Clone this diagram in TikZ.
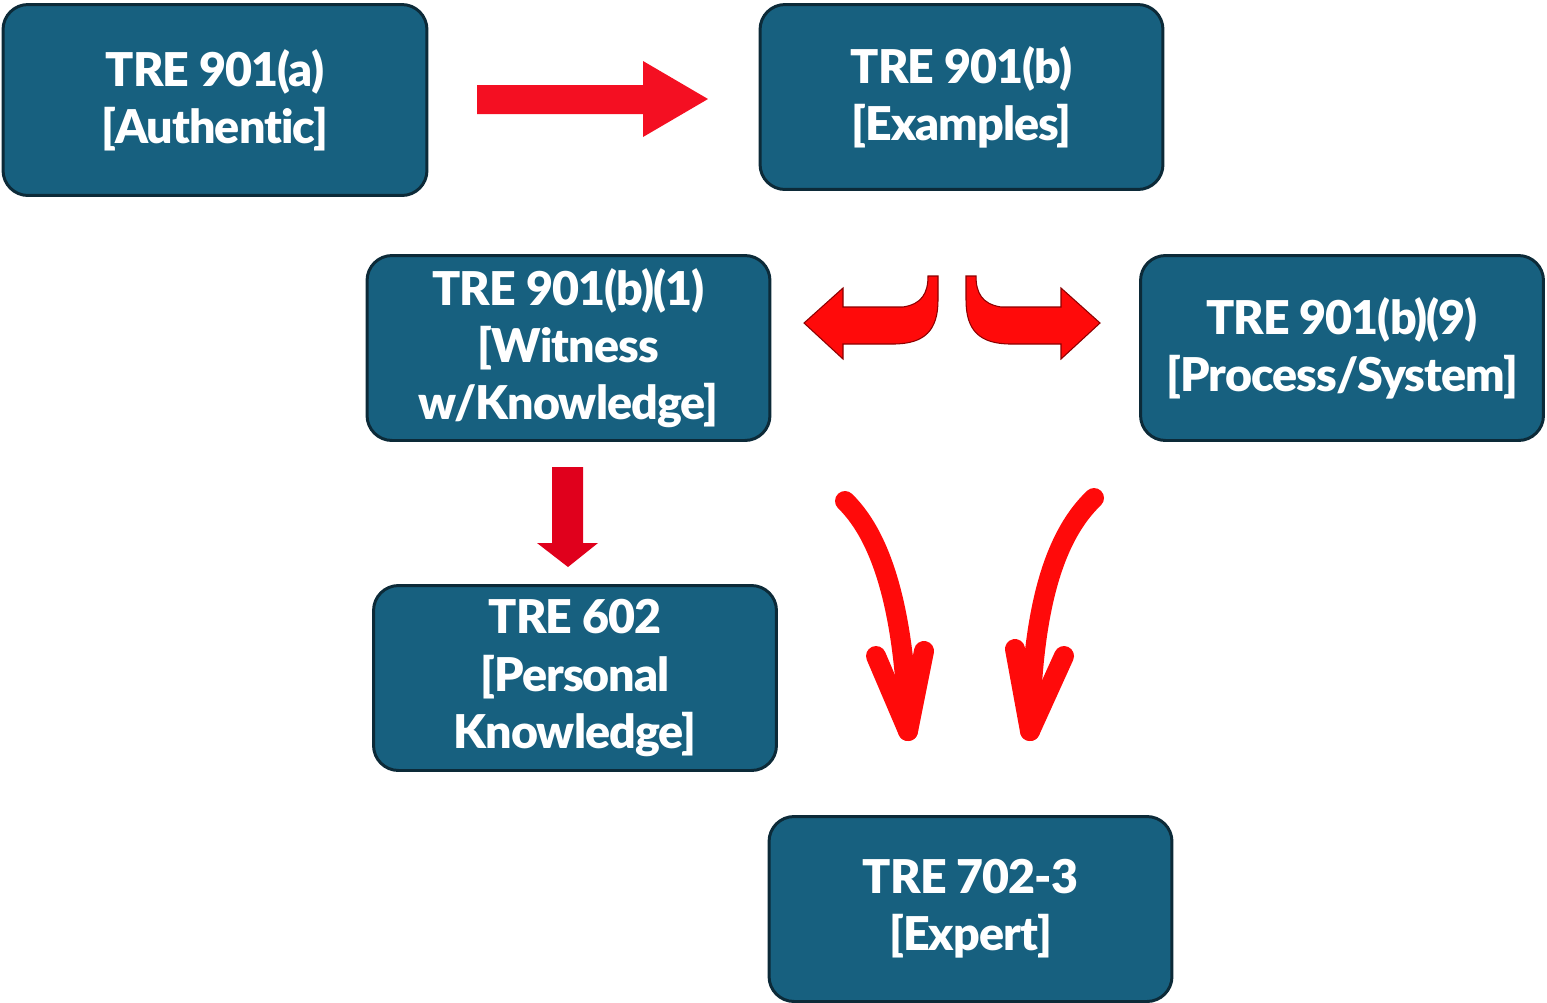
\documentclass[tikz,border=0pt]{standalone}
\usepackage{fontspec}
\setmainfont{Lato}[BoldFont={Lato Black}, Ligatures={NoCommon}, LetterSpace=-2]
\usetikzlibrary{positioning}
\definecolor{rulefill}{HTML}{17607F}
\definecolor{ruleline}{HTML}{0C2A38}
\definecolor{arrowred}{HTML}{F40F22}
\definecolor{deepred}{HTML}{E0001C}
\definecolor{brightred}{HTML}{FF0A0A}

\begin{document}
\begin{tikzpicture}[x=0.02cm, y=-0.02cm,
  rule/.style={rectangle, rounded corners=0.5cm, draw=ruleline, line width=1.7pt,
               fill=rulefill, minimum width=8.06cm, minimum height=3.7cm,
               text=white, align=center,
               font=\fontsize{26.5}{32.5}\selectfont\bfseries},
  block/.style={fill=arrowred},
  turn/.style={fill=brightred, draw=red!55!black, line width=0.6pt},
  swoop/.style={draw=brightred, line width=0.4cm, line cap=round, line join=round},
]
  \useasboundingbox (0,0) rectangle (1547,1002);

  % the rules
  \node[rule, minimum width=8.48cm, minimum height=3.82cm] (auth) at (215,100) {TRE 901(a)\\{[}Authentic{]}};
  \node[rule] (examples) at (961.5,97) {TRE 901(b)\\{[}Examples{]}};
  \node[rule] (witness) at (568.5,348) {TRE 901(b)(1)\\{[}Witness\\w/Knowledge{]}};
  \node[rule] (process) at (1342,348) {TRE 901(b)(9)\\{[}Process/System{]}};
  \node[rule] (personal) at (575,678) {TRE 602\\{[}Personal\\Knowledge{]}};
  \node[rule] (expert) at (970.5,909) {TRE 702-3\\{[}Expert{]}};

  % straight block arrows
  \fill[block] (477,85) -- (643,85) -- (643,61) -- (708,99) -- (643,137) -- (643,114) -- (477,114) -- cycle;
  \fill[deepred] (552,467) -- (583,467) -- (583,543) -- (598,543) -- (568,567) -- (537,543) -- (552,543) -- cycle;

  % turning arrows under 901(b)
  \filldraw[turn] (804,323) -- (843,288) -- (843,307) -- (903,307)
    .. controls (922,304) and (928,293) .. (928,276) -- (938,276) -- (938,300)
    .. controls (938,330) and (925,344) .. (893,344) -- (843,344) -- (843,359) -- cycle;
  \filldraw[turn] (1100,323) -- (1061,288) -- (1061,307) -- (1001,307)
    .. controls (982,304) and (976,293) .. (976,276) -- (966,276) -- (966,300)
    .. controls (966,330) and (979,344) .. (1011,344) -- (1061,344) -- (1061,359) -- cycle;

  % hand drawn arrows down to the expert
  \coordinate (lstart) at (845,501);
  \coordinate (ltip) at (908,731);
  \coordinate (rstart) at (1094,498);
  \coordinate (rtip) at (1030,731);
  \draw[swoop] (lstart) .. controls (885,540) and (905,620) .. (ltip);
  \draw[swoop] (876,656) -- (ltip) -- (924,651);
  \draw[swoop] (rstart) .. controls (1050,540) and (1032,620) .. (rtip);
  \draw[swoop] (1015,649) -- (rtip) -- (1064,656);
\end{tikzpicture}
\end{document}
